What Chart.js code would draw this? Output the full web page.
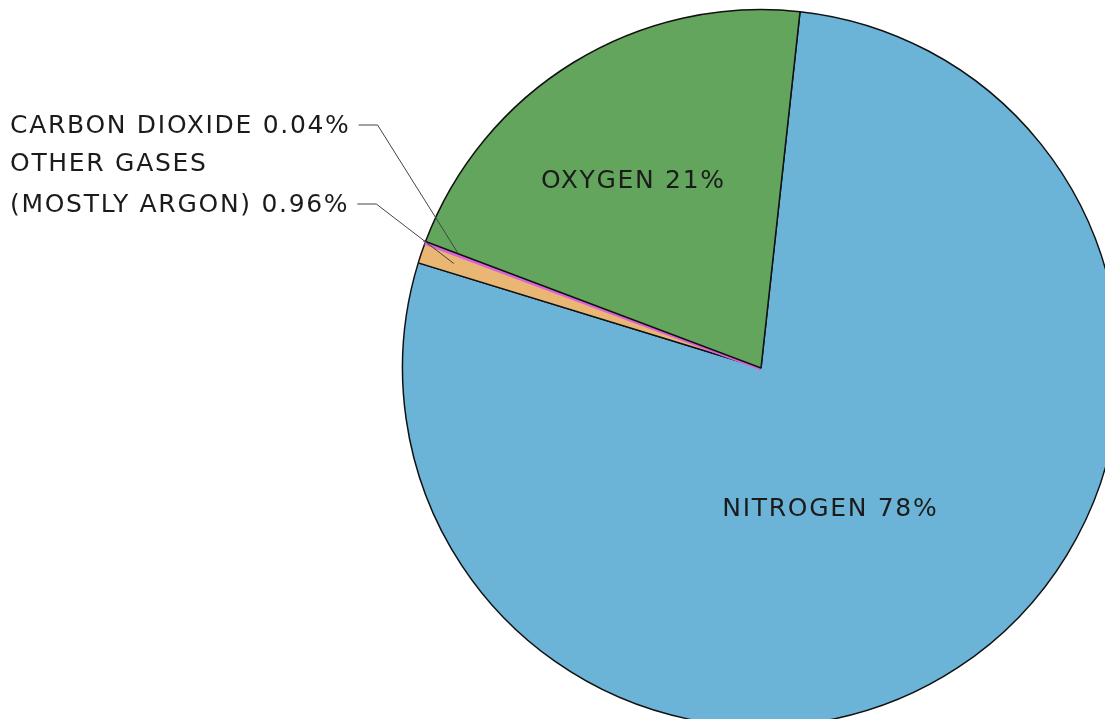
<!DOCTYPE html>
<html>
<head>
<meta charset="utf-8">
<script src="https://cdn.jsdelivr.net/npm/chart.js@4.4.1/dist/chart.umd.min.js"></script>
<style>
html, body { margin: 0; padding: 0; background: #fff; overflow: hidden; width: 1105px; height: 719px; }
#wrap { position: absolute; left: 0; top: 0; }
</style>
</head>
<body>
<div id="wrap"><canvas id="air" width="1125" height="740"></canvas></div>
<script>
// composition of air, clockwise from the top
const gases = ['Nitrogen', 'Other gases (mostly argon)', 'Carbon dioxide', 'Oxygen'];
const percents = [78, 0.96, 0.04, 21];
const sliceColors = ['#6bb4d7', '#e9b673', '#d864d8', '#63a55d'];
const insideLabels = ['NITROGEN 78%', null, null, 'OXYGEN 21%'];
const outsideLabels = [null, ['OTHER GASES', '(MOSTLY ARGON) 0.96%'], ['CARBON DIOXIDE 0.04%'], null];

const labelFont = '25px "DejaVu Sans"';

function pointOn(arc, frac, shift) {
    const a = (arc.startAngle + arc.endAngle) / 2 + (shift || 0);
    return {
        x: arc.x + Math.cos(a) * arc.outerRadius * frac,
        y: arc.y + Math.sin(a) * arc.outerRadius * frac
    };
}

const calloutPlugin = {
    id: 'callouts',
    afterDatasetsDraw(chart) {
        const ctx = chart.ctx;
        const arcs = chart.getDatasetMeta(0).data;
        ctx.save();
        ctx.font = labelFont;
        ctx.letterSpacing = '1.7px';
        ctx.fillStyle = '#1b1b1b';
        ctx.textBaseline = 'middle';

        // labels inside the big slices
        const inside = { 0: [0.44, 0.127], 3: [0.63, -0.05] };
        for (let i in inside) {
            const p = pointOn(arcs[i], inside[i][0], inside[i][1]);
            ctx.textAlign = 'center';
            ctx.fillText(insideLabels[i], p.x, p.y);
        }

        // labels on the left with leader lines
        ctx.textAlign = 'left';
        ctx.strokeStyle = '#444';
        ctx.lineWidth = 1;
        const rows = { 2: [126], 1: [164, 205] };
        for (let i in rows) {
            const lines = outsideLabels[i];
            let lastX = 0, lastY = 0;
            lines.forEach((txt, k) => {
                ctx.fillText(txt, 10, rows[i][k]);
                lastX = 10 + ctx.measureText(txt).width;
                lastY = rows[i][k];
            });
            const end = pointOn(arcs[i], 0.905, i == 2 ? 0.004 : 0);
            ctx.beginPath();
            ctx.moveTo(lastX + 8, lastY - 1);
            ctx.lineTo(lastX + 27, lastY - 1);
            ctx.lineTo(end.x, end.y);
            ctx.stroke();
        }
        ctx.restore();
    }
};

new Chart(document.getElementById('air').getContext('2d'), {
    type: 'pie',
    data: {
        labels: gases,
        datasets: [{
            data: percents,
            backgroundColor: sliceColors,
            borderColor: ['#111', '#111', '#d864d8', '#111'],
            borderWidth: [1.5, 1.5, 5, 1.5]
        }]
    },
    options: {
        responsive: false,
        animation: false,
        rotation: 6.25,
        layout: { padding: { left: 400, top: 7, right: 3, bottom: 11 } },
        plugins: {
            legend: { display: false },
            tooltip: { enabled: false }
        }
    },
    plugins: [calloutPlugin]
});
</script>
</body>
</html>
